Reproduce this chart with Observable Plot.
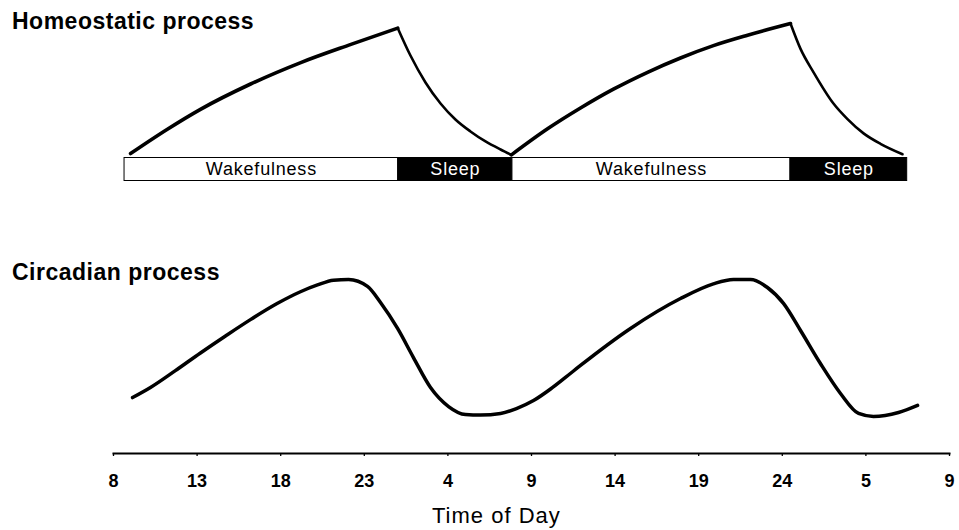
<!DOCTYPE html>
<html>
<head>
<meta charset="utf-8">
<script src="https://cdn.jsdelivr.net/npm/d3@7"></script>
<script src="https://cdn.jsdelivr.net/npm/@observablehq/plot@0.6"></script>
<style>
  body { margin: 0; background: white; }
  #wrap { position: relative; width: 959px; height: 530px; background: white; font-family: "Liberation Sans", Arial, sans-serif; overflow: hidden; }
  #wrap svg { position: absolute; left: 0; overflow: visible; max-width: none; z-index: 1; }
  .title { position: absolute; z-index: 5; left: 12px; font-weight: bold; font-size: 23px; letter-spacing: 0.5px; line-height: normal; color: black; white-space: nowrap; }
  .xlabel { position: absolute; z-index: 5; left: 432px; top: 503px; font-size: 22px; letter-spacing: 1px; line-height: normal; color: black; white-space: nowrap; }
  .bars text { letter-spacing: 0.8px; }
</style>
</head>
<body>
<div id="wrap">
  <div class="title" style="top:8px">Homeostatic process</div>
  <div class="title" style="top:259px">Circadian process</div>
  <div class="xlabel">Time of Day</div>
</div>
<script>
// ---- Data (elapsed hours from 8 h on day one) ----
const xDomain = [8, 58];

// Homeostatic process (arbitrary units)
const homeoSegment = [
  "rise1","rise1","rise1","rise1","rise1","rise1","rise1",
  "decay1","decay1","decay1","decay1","decay1","decay1","decay1","decay1","decay1",
  "rise2","rise2","rise2","rise2","rise2","rise2","rise2","rise2","rise2",
  "decay2","decay2","decay2","decay2","decay2","decay2","decay2","decay2"
];
const homeoHour = [
  9.02, 11.2, 13.2, 16.2, 19.2, 22.2, 25.0,
  25.0, 25.76, 26.66, 27.56, 28.45, 29.35, 30.25, 31.15, 31.8,
  31.8, 33.96, 35.93, 37.9, 39.94, 41.91, 43.88, 45.92, 48.49,
  48.49, 49.09, 49.87, 51.06, 51.9, 52.86, 53.87, 55.19
];
const homeoLevel = [
  1.5, 20.0, 35.5, 55.0, 71.5, 85.5, 98.0,
  98.0, 76.9, 56.2, 40.0, 27.7, 18.5, 10.8, 4.6, 0.5,
  0.5, 20.5, 36.5, 51.0, 64.0, 75.0, 84.5, 92.5, 101.5,
  101.5, 82.0, 64.0, 40.0, 28.0, 17.0, 9.0, 1.0
];

// Wake / sleep bar
const barState = ["Wakefulness", "Sleep", "Wakefulness", "Sleep"];
const barStart = [8.66, 25.03, 31.86, 48.49];
const barEnd   = [25.03, 31.86, 48.49, 55.47];

// Circadian process (arbitrary units)
const circHour = [
  9.14, 10.21, 11.7, 13.2, 14.7, 16.19, 17.81, 19.18, 20.2, 21.16, 22.06,
  23.19, 23.97, 24.99, 25.94, 26.96, 28.04, 29.05, 29.95, 31.15,
  32.1, 33.12, 34.14, 35.03, 35.93, 38.92, 41.91, 43.88, 45.08, 46.1,
  47.11, 48.07, 49.09, 50.28, 51.48, 52.56, 53.45, 54.95, 56.09
];
const circLevel = [
  13.2, 20.6, 33.0, 46.0, 58.5, 70.5, 82.5, 91.0, 96.0, 99.5, 100,
  94.9, 83.1, 64.0, 42.6, 20.6, 6.6, 0.7, 0.3, 1.5,
  5.1, 11.0, 19.5, 28.0, 36.8, 64.0, 86.0, 96.8, 100, 100,
  94.1, 82.4, 62.5, 38.2, 16.2, 1.5, -0.7, 2.2, 7.4
];

// Axis ticks
const tickHours  = [8, 13, 18, 23, 28, 33, 38, 43, 48, 53, 58];
const tickLabels = ["8", "13", "18", "23", "4", "9", "14", "19", "24", "5", "9"];

// ---- Build tables ----
const homeo = homeoHour.map((h, i) => ({seg: homeoSegment[i], hour: h, level: homeoLevel[i]}));
const bars = barState.map((s, i) => ({state: s, start: barStart[i], end: barEnd[i]}));
const circ = circHour.map((h, i) => ({hour: h, level: circLevel[i]}));

const font = "'Liberation Sans', Arial, sans-serif";
const common = {width: 959, marginLeft: 113, marginRight: 10, style: {fontFamily: font, background: "transparent", overflow: "visible"}};
const wrap = document.getElementById("wrap");

// Top: homeostatic curve
const plotA = Plot.plot({
  ...common,
  height: 157, marginTop: 25, marginBottom: 2,
  x: {domain: xDomain, axis: null},
  y: {domain: [0, 100], axis: null},
  marks: [
    Plot.line(homeo.filter(d => d.seg.startsWith("rise")), {x: "hour", y: "level", z: "seg", curve: "monotone-x", stroke: "black", strokeWidth: 3.6, strokeLinejoin: "round"}),
    Plot.line(homeo.filter(d => d.seg.startsWith("decay")), {x: "hour", y: "level", z: "seg", curve: "monotone-x", stroke: "black", strokeWidth: 2.6, strokeLinejoin: "round"})
  ]
});
plotA.style.top = "0px";
wrap.appendChild(plotA);

// Wake/sleep bar
const plotB = Plot.plot({
  ...common,
  className: "bars",
  height: 24, marginTop: 0.5, marginBottom: 0.5,
  x: {domain: xDomain, axis: null},
  color: {domain: ["Wakefulness", "Sleep"], range: ["white", "black"]},
  marks: [
    Plot.rect(bars, {x1: "start", x2: "end", fill: "state", stroke: "black", strokeWidth: 1}),
    Plot.text(bars.filter(d => d.state === "Wakefulness"), {x: d => (d.start + d.end) / 2, text: "state", fill: "black", fontSize: 18}),
    Plot.text(bars.filter(d => d.state === "Sleep"), {x: d => (d.start + d.end) / 2, text: "state", fill: "white", fontSize: 18})
  ]
});
plotB.style.top = "157px";
wrap.appendChild(plotB);

// Bottom: circadian curve + time axis
const plotC = Plot.plot({
  ...common,
  height: 349, marginTop: 98, marginBottom: 77,
  x: {domain: xDomain},
  y: {domain: [0, 100], axis: null, insetBottom: 38},
  marks: [
    Plot.frame({anchor: "bottom", stroke: "black", strokeWidth: 2}),
    Plot.axisX({ticks: tickHours, tickFormat: d => tickLabels[tickHours.indexOf(d)], tickSize: 3, tickPadding: 18, fontSize: 18, fontWeight: "bold", strokeWidth: 1.3, label: null, fill: "black"}),
    Plot.line(circ, {x: "hour", y: "level", curve: "monotone-x", stroke: "black", strokeWidth: 3.5, strokeLinejoin: "round"})
  ]
});
plotC.style.top = "181px";
wrap.appendChild(plotC);
</script>
</body>
</html>
